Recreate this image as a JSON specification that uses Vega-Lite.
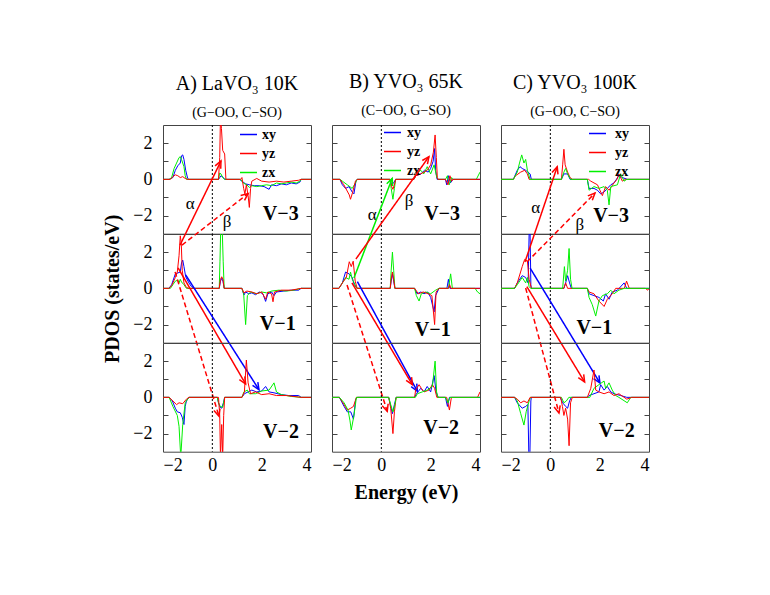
{
"$schema":"https://vega.github.io/schema/vega-lite/v6.json",
"padding":{"left":102,"top":71,"right":5,"bottom":5},
"background":"white",
"columns":3,
"spacing":{"row":0,"column":21},
"bounds":"flush",
"align":"all",
"resolve":{"scale":{"color":"independent","x":"independent","y":"independent","strokeDash":"independent"},"legend":{"color":"independent"}},
"datasets":{
"A3":[
{"o":"xy","e":-2,"d":0},{"o":"xy","e":-1.75,"d":0},{"o":"xy","e":-1.6,"d":0.1},{"o":"xy","e":-1.5,"d":0.5},{"o":"xy","e":-1.4,"d":0.75},{"o":"xy","e":-1.3,"d":0.9},{"o":"xy","e":-1.25,"d":1.3},{"o":"xy","e":-1.2,"d":1.35},{"o":"xy","e":-1.15,"d":1.1},{"o":"xy","e":-1.08,"d":0.5},{"o":"xy","e":-1.0,"d":0.05},{"o":"xy","e":-0.95,"d":0},{"o":"xy","e":0.25,"d":0},{"o":"xy","e":0.3,"d":0.1},{"o":"xy","e":0.35,"d":0.2},{"o":"xy","e":0.45,"d":0.1},{"o":"xy","e":0.5,"d":0},{"o":"xy","e":1.1,"d":0},{"o":"xy","e":1.2,"d":-0.1},{"o":"xy","e":1.35,"d":-0.25},{"o":"xy","e":1.5,"d":-0.3},{"o":"xy","e":1.7,"d":-0.35},{"o":"xy","e":1.9,"d":-0.35},{"o":"xy","e":2.1,"d":-0.4},{"o":"xy","e":2.3,"d":-0.55},{"o":"xy","e":2.4,"d":-0.3},{"o":"xy","e":2.6,"d":-0.35},{"o":"xy","e":2.8,"d":-0.25},{"o":"xy","e":3.0,"d":-0.3},{"o":"xy","e":3.2,"d":-0.2},{"o":"xy","e":3.4,"d":-0.25},{"o":"xy","e":3.55,"d":-0.15},{"o":"xy","e":3.6,"d":0},{"o":"xy","e":4,"d":0},
{"o":"zx","e":-2,"d":0},{"o":"zx","e":-1.75,"d":0},{"o":"zx","e":-1.65,"d":0.1},{"o":"zx","e":-1.55,"d":0.6},{"o":"zx","e":-1.45,"d":0.9},{"o":"zx","e":-1.35,"d":1.2},{"o":"zx","e":-1.3,"d":1.25},{"o":"zx","e":-1.25,"d":1.1},{"o":"zx","e":-1.15,"d":0.7},{"o":"zx","e":-1.1,"d":0.2},{"o":"zx","e":-1.05,"d":0},{"o":"zx","e":0.25,"d":0},{"o":"zx","e":0.3,"d":0.35},{"o":"zx","e":0.35,"d":0.3},{"o":"zx","e":0.42,"d":0.1},{"o":"zx","e":0.5,"d":0},{"o":"zx","e":1.15,"d":0},{"o":"zx","e":1.25,"d":-0.2},{"o":"zx","e":1.4,"d":-0.3},{"o":"zx","e":1.5,"d":-0.45},{"o":"zx","e":1.6,"d":-0.35},{"o":"zx","e":1.8,"d":-0.4},{"o":"zx","e":2.0,"d":-0.35},{"o":"zx","e":2.2,"d":-0.3},{"o":"zx","e":2.4,"d":-0.35},{"o":"zx","e":2.6,"d":-0.2},{"o":"zx","e":2.8,"d":-0.25},{"o":"zx","e":3.0,"d":-0.2},{"o":"zx","e":3.2,"d":-0.15},{"o":"zx","e":3.4,"d":-0.2},{"o":"zx","e":3.55,"d":-0.1},{"o":"zx","e":3.6,"d":0},{"o":"zx","e":4,"d":0},
{"o":"yz","e":-2,"d":0},{"o":"yz","e":-1.7,"d":0},{"o":"yz","e":-1.6,"d":0.15},{"o":"yz","e":-1.5,"d":0.25},{"o":"yz","e":-1.4,"d":0.2},{"o":"yz","e":-1.3,"d":0.1},{"o":"yz","e":-1.2,"d":0.15},{"o":"yz","e":-1.1,"d":0.05},{"o":"yz","e":-1.0,"d":0},{"o":"yz","e":0.25,"d":0},{"o":"yz","e":0.3,"d":1.2},{"o":"yz","e":0.33,"d":3.5},{"o":"yz","e":0.37,"d":2.8},{"o":"yz","e":0.42,"d":1.6},{"o":"yz","e":0.5,"d":1.4},{"o":"yz","e":0.55,"d":0},{"o":"yz","e":1.15,"d":0},{"o":"yz","e":1.2,"d":0.1},{"o":"yz","e":1.27,"d":-0.5},{"o":"yz","e":1.32,"d":-0.8},{"o":"yz","e":1.38,"d":-0.3},{"o":"yz","e":1.45,"d":-0.9},{"o":"yz","e":1.5,"d":-1.55},{"o":"yz","e":1.55,"d":-0.5},{"o":"yz","e":1.6,"d":-0.1},{"o":"yz","e":1.8,"d":0.05},{"o":"yz","e":2.0,"d":-0.1},{"o":"yz","e":2.3,"d":-0.15},{"o":"yz","e":2.6,"d":-0.1},{"o":"yz","e":2.9,"d":-0.15},{"o":"yz","e":3.2,"d":-0.1},{"o":"yz","e":3.5,"d":-0.05},{"o":"yz","e":3.6,"d":0},{"o":"yz","e":4,"d":0}
],
"A1":[
{"o":"xy","e":-2,"d":0},{"o":"xy","e":-1.76,"d":0},{"o":"xy","e":-1.65,"d":0.2},{"o":"xy","e":-1.5,"d":0.8},{"o":"xy","e":-1.4,"d":0.85},{"o":"xy","e":-1.3,"d":0.9},{"o":"xy","e":-1.25,"d":1.4},{"o":"xy","e":-1.2,"d":1.56},{"o":"xy","e":-1.15,"d":1.2},{"o":"xy","e":-1.08,"d":0.64},{"o":"xy","e":-0.95,"d":0.3},{"o":"xy","e":-0.85,"d":0.1},{"o":"xy","e":-0.74,"d":0},{"o":"xy","e":0.28,"d":0},{"o":"xy","e":0.33,"d":0.4},{"o":"xy","e":0.38,"d":0.55},{"o":"xy","e":0.43,"d":0.4},{"o":"xy","e":0.48,"d":0},{"o":"xy","e":1.2,"d":0},{"o":"xy","e":1.28,"d":-0.37},{"o":"xy","e":1.35,"d":-0.2},{"o":"xy","e":1.48,"d":-0.3},{"o":"xy","e":1.6,"d":-0.25},{"o":"xy","e":1.75,"d":-0.35},{"o":"xy","e":1.9,"d":-0.2},{"o":"xy","e":2.05,"d":-0.3},{"o":"xy","e":2.16,"d":-0.72},{"o":"xy","e":2.25,"d":-0.3},{"o":"xy","e":2.4,"d":-0.2},{"o":"xy","e":2.5,"d":-0.4},{"o":"xy","e":2.6,"d":-0.2},{"o":"xy","e":2.9,"d":-0.15},{"o":"xy","e":3.2,"d":-0.1},{"o":"xy","e":3.5,"d":-0.1},{"o":"xy","e":3.6,"d":0},{"o":"xy","e":4,"d":0},
{"o":"zx","e":-2,"d":0},{"o":"zx","e":-1.7,"d":0},{"o":"zx","e":-1.6,"d":0.2},{"o":"zx","e":-1.5,"d":0.4},{"o":"zx","e":-1.4,"d":0.45},{"o":"zx","e":-1.35,"d":0.3},{"o":"zx","e":-1.3,"d":0.5},{"o":"zx","e":-1.25,"d":0.35},{"o":"zx","e":-1.15,"d":0.2},{"o":"zx","e":-1.05,"d":0},{"o":"zx","e":0.28,"d":0},{"o":"zx","e":0.31,"d":1.5},{"o":"zx","e":0.34,"d":3.3},{"o":"zx","e":0.4,"d":3.3},{"o":"zx","e":0.44,"d":1.5},{"o":"zx","e":0.48,"d":0},{"o":"zx","e":1.2,"d":0},{"o":"zx","e":1.27,"d":-0.3},{"o":"zx","e":1.35,"d":-2.0},{"o":"zx","e":1.42,"d":-0.4},{"o":"zx","e":1.55,"d":-0.2},{"o":"zx","e":1.8,"d":-0.3},{"o":"zx","e":2.0,"d":-0.2},{"o":"zx","e":2.2,"d":-0.25},{"o":"zx","e":2.4,"d":-0.15},{"o":"zx","e":2.7,"d":-0.1},{"o":"zx","e":3.0,"d":-0.15},{"o":"zx","e":3.3,"d":-0.1},{"o":"zx","e":3.6,"d":0},{"o":"zx","e":4,"d":0},
{"o":"yz","e":-2,"d":0},{"o":"yz","e":-1.75,"d":0},{"o":"yz","e":-1.65,"d":0.15},{"o":"yz","e":-1.5,"d":0.6},{"o":"yz","e":-1.42,"d":0.9},{"o":"yz","e":-1.35,"d":1.8},{"o":"yz","e":-1.3,"d":2.9},{"o":"yz","e":-1.26,"d":2.5},{"o":"yz","e":-1.22,"d":1.0},{"o":"yz","e":-1.15,"d":0.3},{"o":"yz","e":-1.05,"d":0.05},{"o":"yz","e":-0.95,"d":0},{"o":"yz","e":0.28,"d":0},{"o":"yz","e":0.33,"d":0.5},{"o":"yz","e":0.38,"d":0.64},{"o":"yz","e":0.43,"d":0.5},{"o":"yz","e":0.48,"d":0},{"o":"yz","e":1.2,"d":0},{"o":"yz","e":1.28,"d":-0.25},{"o":"yz","e":1.4,"d":-0.15},{"o":"yz","e":1.6,"d":-0.2},{"o":"yz","e":1.8,"d":-0.3},{"o":"yz","e":2.0,"d":-0.2},{"o":"yz","e":2.16,"d":-0.6},{"o":"yz","e":2.25,"d":-0.2},{"o":"yz","e":2.4,"d":-0.3},{"o":"yz","e":2.46,"d":-0.74},{"o":"yz","e":2.52,"d":-0.2},{"o":"yz","e":2.8,"d":-0.1},{"o":"yz","e":3.2,"d":-0.1},{"o":"yz","e":3.6,"d":0},{"o":"yz","e":4,"d":0}
],
"A2":[
{"o":"xy","e":-2,"d":0},{"o":"xy","e":-1.75,"d":0},{"o":"xy","e":-1.62,"d":-0.2},{"o":"xy","e":-1.5,"d":-0.6},{"o":"xy","e":-1.42,"d":-0.8},{"o":"xy","e":-1.3,"d":-0.85},{"o":"xy","e":-1.22,"d":-1.1},{"o":"xy","e":-1.15,"d":-1.5},{"o":"xy","e":-1.1,"d":-0.5},{"o":"xy","e":-1.05,"d":-0.2},{"o":"xy","e":-0.95,"d":0},{"o":"xy","e":0.2,"d":0},{"o":"xy","e":0.25,"d":-0.3},{"o":"xy","e":0.32,"d":-0.55},{"o":"xy","e":0.38,"d":-0.6},{"o":"xy","e":0.45,"d":-0.3},{"o":"xy","e":0.5,"d":0},{"o":"xy","e":1.2,"d":0},{"o":"xy","e":1.3,"d":0.2},{"o":"xy","e":1.45,"d":0.3},{"o":"xy","e":1.6,"d":0.4},{"o":"xy","e":1.8,"d":0.3},{"o":"xy","e":2.0,"d":0.35},{"o":"xy","e":2.16,"d":0.6},{"o":"xy","e":2.3,"d":0.3},{"o":"xy","e":2.5,"d":0.25},{"o":"xy","e":2.8,"d":0.15},{"o":"xy","e":3.1,"d":0.1},{"o":"xy","e":3.5,"d":0.1},{"o":"xy","e":3.6,"d":0},{"o":"xy","e":4,"d":0},
{"o":"zx","e":-2,"d":0},{"o":"zx","e":-1.75,"d":0},{"o":"zx","e":-1.6,"d":-0.5},{"o":"zx","e":-1.42,"d":-1.0},{"o":"zx","e":-1.35,"d":-1.6},{"o":"zx","e":-1.28,"d":-3.3},{"o":"zx","e":-1.2,"d":-1.5},{"o":"zx","e":-1.1,"d":-0.3},{"o":"zx","e":-0.95,"d":0},{"o":"zx","e":0.2,"d":0},{"o":"zx","e":0.25,"d":-0.3},{"o":"zx","e":0.32,"d":-0.5},{"o":"zx","e":0.42,"d":-0.55},{"o":"zx","e":0.5,"d":0},{"o":"zx","e":1.2,"d":0},{"o":"zx","e":1.28,"d":0.3},{"o":"zx","e":1.42,"d":0.4},{"o":"zx","e":1.5,"d":0.2},{"o":"zx","e":1.75,"d":0.2},{"o":"zx","e":2.0,"d":0.35},{"o":"zx","e":2.3,"d":0.4},{"o":"zx","e":2.5,"d":0.8},{"o":"zx","e":2.6,"d":0.3},{"o":"zx","e":2.8,"d":0.15},{"o":"zx","e":3.2,"d":0.05},{"o":"zx","e":3.6,"d":0},{"o":"zx","e":4,"d":0},
{"o":"yz","e":-2,"d":0},{"o":"yz","e":-1.75,"d":0},{"o":"yz","e":-1.6,"d":-0.2},{"o":"yz","e":-1.45,"d":-0.4},{"o":"yz","e":-1.35,"d":-0.3},{"o":"yz","e":-1.2,"d":-0.35},{"o":"yz","e":-1.05,"d":-0.1},{"o":"yz","e":-0.95,"d":0},{"o":"yz","e":0.25,"d":0},{"o":"yz","e":0.3,"d":-1.0},{"o":"yz","e":0.33,"d":-3.3},{"o":"yz","e":0.38,"d":-1.5},{"o":"yz","e":0.42,"d":-3.3},{"o":"yz","e":0.46,"d":-1.0},{"o":"yz","e":0.5,"d":0},{"o":"yz","e":1.2,"d":0},{"o":"yz","e":1.3,"d":0.3},{"o":"yz","e":1.38,"d":2.06},{"o":"yz","e":1.45,"d":0.8},{"o":"yz","e":1.55,"d":0.2},{"o":"yz","e":1.75,"d":0.3},{"o":"yz","e":2.0,"d":0.15},{"o":"yz","e":2.3,"d":0.2},{"o":"yz","e":2.6,"d":0.1},{"o":"yz","e":3.0,"d":0.1},{"o":"yz","e":3.6,"d":0},{"o":"yz","e":4,"d":0}
],
"B3":[
{"o":"xy","e":-2,"d":0},{"o":"xy","e":-1.68,"d":0},{"o":"xy","e":-1.58,"d":-0.3},{"o":"xy","e":-1.45,"d":-0.5},{"o":"xy","e":-1.31,"d":-0.4},{"o":"xy","e":-1.18,"d":-0.7},{"o":"xy","e":-1.11,"d":-0.8},{"o":"xy","e":-1.03,"d":-0.1},{"o":"xy","e":-0.98,"d":0},{"o":"xy","e":0.35,"d":0},{"o":"xy","e":0.42,"d":-0.3},{"o":"xy","e":0.5,"d":-0.2},{"o":"xy","e":0.58,"d":0},{"o":"xy","e":1.32,"d":0},{"o":"xy","e":1.4,"d":0.2},{"o":"xy","e":1.6,"d":0.3},{"o":"xy","e":1.75,"d":0.5},{"o":"xy","e":1.9,"d":0.4},{"o":"xy","e":2.0,"d":0.6},{"o":"xy","e":2.1,"d":1.0},{"o":"xy","e":2.16,"d":1.7},{"o":"xy","e":2.2,"d":0.5},{"o":"xy","e":2.26,"d":0},{"o":"xy","e":2.6,"d":0},{"o":"xy","e":2.65,"d":-0.3},{"o":"xy","e":2.72,"d":0.2},{"o":"xy","e":2.8,"d":-0.2},{"o":"xy","e":2.9,"d":0},{"o":"xy","e":4,"d":0},
{"o":"zx","e":-2,"d":0},{"o":"zx","e":-1.68,"d":0},{"o":"zx","e":-1.58,"d":-0.1},{"o":"zx","e":-1.38,"d":-0.3},{"o":"zx","e":-1.18,"d":-0.5},{"o":"zx","e":-1.05,"d":-0.2},{"o":"zx","e":-0.98,"d":0},{"o":"zx","e":0.35,"d":0},{"o":"zx","e":0.4,"d":-0.5},{"o":"zx","e":0.47,"d":-1.1},{"o":"zx","e":0.53,"d":-0.5},{"o":"zx","e":0.58,"d":0},{"o":"zx","e":1.32,"d":0},{"o":"zx","e":1.4,"d":0.3},{"o":"zx","e":1.6,"d":0.5},{"o":"zx","e":1.72,"d":0.3},{"o":"zx","e":1.86,"d":0.7},{"o":"zx","e":2.0,"d":0.3},{"o":"zx","e":2.14,"d":0.8},{"o":"zx","e":2.25,"d":0.1},{"o":"zx","e":2.3,"d":0},{"o":"zx","e":2.6,"d":0},{"o":"zx","e":2.68,"d":0.2},{"o":"zx","e":2.75,"d":-0.3},{"o":"zx","e":2.85,"d":0.1},{"o":"zx","e":2.9,"d":0},{"o":"zx","e":3.85,"d":0},{"o":"zx","e":4,"d":0.4},
{"o":"yz","e":-2,"d":0},{"o":"yz","e":-1.68,"d":0},{"o":"yz","e":-1.52,"d":-0.3},{"o":"yz","e":-1.3,"d":-0.86},{"o":"yz","e":-1.25,"d":-1.1},{"o":"yz","e":-1.16,"d":-0.7},{"o":"yz","e":-1.05,"d":-0.1},{"o":"yz","e":-0.98,"d":0},{"o":"yz","e":0.35,"d":0},{"o":"yz","e":0.42,"d":-0.4},{"o":"yz","e":0.47,"d":-0.55},{"o":"yz","e":0.55,"d":-0.2},{"o":"yz","e":0.58,"d":0},{"o":"yz","e":1.32,"d":0},{"o":"yz","e":1.4,"d":0.2},{"o":"yz","e":1.6,"d":0.3},{"o":"yz","e":1.86,"d":0.5},{"o":"yz","e":2.0,"d":0.8},{"o":"yz","e":2.11,"d":1.5},{"o":"yz","e":2.18,"d":2.45},{"o":"yz","e":2.23,"d":1.2},{"o":"yz","e":2.27,"d":0.1},{"o":"yz","e":2.3,"d":0},{"o":"yz","e":2.6,"d":0},{"o":"yz","e":2.7,"d":-0.3},{"o":"yz","e":2.78,"d":0.2},{"o":"yz","e":2.85,"d":-0.1},{"o":"yz","e":2.9,"d":0},{"o":"yz","e":4,"d":0}
],
"B1":[
{"o":"xy","e":-2,"d":0},{"o":"xy","e":-1.72,"d":0},{"o":"xy","e":-1.58,"d":0.3},{"o":"xy","e":-1.45,"d":0.9},{"o":"xy","e":-1.38,"d":0.85},{"o":"xy","e":-1.31,"d":0.8},{"o":"xy","e":-1.18,"d":0.6},{"o":"xy","e":-1.1,"d":0.2},{"o":"xy","e":-0.97,"d":0},{"o":"xy","e":0.36,"d":0},{"o":"xy","e":0.4,"d":0.4},{"o":"xy","e":0.45,"d":0.8},{"o":"xy","e":0.5,"d":0.4},{"o":"xy","e":0.55,"d":0},{"o":"xy","e":1.35,"d":0},{"o":"xy","e":1.45,"d":-0.3},{"o":"xy","e":1.6,"d":-0.2},{"o":"xy","e":1.73,"d":-0.3},{"o":"xy","e":1.88,"d":-0.2},{"o":"xy","e":2.0,"d":-0.5},{"o":"xy","e":2.14,"d":-1.3},{"o":"xy","e":2.2,"d":-0.4},{"o":"xy","e":2.34,"d":0},{"o":"xy","e":2.66,"d":0},{"o":"xy","e":2.72,"d":0.5},{"o":"xy","e":2.78,"d":0},{"o":"xy","e":4,"d":0},
{"o":"zx","e":-2,"d":0},{"o":"zx","e":-1.72,"d":0},{"o":"zx","e":-1.58,"d":0.3},{"o":"zx","e":-1.45,"d":0.6},{"o":"zx","e":-1.31,"d":0.5},{"o":"zx","e":-1.25,"d":0.9},{"o":"zx","e":-1.18,"d":0.5},{"o":"zx","e":-1.1,"d":0.3},{"o":"zx","e":-1.0,"d":0},{"o":"zx","e":0.36,"d":0},{"o":"zx","e":0.4,"d":1.0},{"o":"zx","e":0.45,"d":2.0},{"o":"zx","e":0.5,"d":1.0},{"o":"zx","e":0.55,"d":0},{"o":"zx","e":1.35,"d":0},{"o":"zx","e":1.42,"d":-0.4},{"o":"zx","e":1.53,"d":-0.7},{"o":"zx","e":1.62,"d":-0.3},{"o":"zx","e":1.8,"d":-0.2},{"o":"zx","e":2.0,"d":-0.3},{"o":"zx","e":2.2,"d":-0.1},{"o":"zx","e":2.34,"d":0},{"o":"zx","e":2.72,"d":0},{"o":"zx","e":2.81,"d":0.8},{"o":"zx","e":2.88,"d":0},{"o":"zx","e":3.8,"d":0},{"o":"zx","e":3.9,"d":-0.2},{"o":"zx","e":4,"d":-0.3},
{"o":"yz","e":-2,"d":0},{"o":"yz","e":-1.72,"d":0},{"o":"yz","e":-1.58,"d":0.3},{"o":"yz","e":-1.42,"d":0.6},{"o":"yz","e":-1.3,"d":1.47},{"o":"yz","e":-1.22,"d":1.2},{"o":"yz","e":-1.14,"d":1.5},{"o":"yz","e":-1.06,"d":0.4},{"o":"yz","e":-0.98,"d":0},{"o":"yz","e":0.36,"d":0},{"o":"yz","e":0.4,"d":0.5},{"o":"yz","e":0.45,"d":0.9},{"o":"yz","e":0.5,"d":0.5},{"o":"yz","e":0.55,"d":0},{"o":"yz","e":1.35,"d":0},{"o":"yz","e":1.5,"d":-0.3},{"o":"yz","e":1.7,"d":-0.2},{"o":"yz","e":1.9,"d":-0.3},{"o":"yz","e":2.05,"d":-0.4},{"o":"yz","e":2.16,"d":-2.0},{"o":"yz","e":2.22,"d":-0.2},{"o":"yz","e":2.34,"d":0},{"o":"yz","e":2.72,"d":0},{"o":"yz","e":2.77,"d":0.2},{"o":"yz","e":2.82,"d":0},{"o":"yz","e":4,"d":0}
],
"B2":[
{"o":"xy","e":-2,"d":0},{"o":"xy","e":-1.7,"d":0},{"o":"xy","e":-1.51,"d":-0.5},{"o":"xy","e":-1.38,"d":-0.8},{"o":"xy","e":-1.24,"d":-0.8},{"o":"xy","e":-1.13,"d":-1.2},{"o":"xy","e":-1.04,"d":-0.1},{"o":"xy","e":-0.97,"d":0},{"o":"xy","e":0.3,"d":0},{"o":"xy","e":0.38,"d":-0.5},{"o":"xy","e":0.45,"d":-0.9},{"o":"xy","e":0.53,"d":-0.4},{"o":"xy","e":0.6,"d":0},{"o":"xy","e":1.35,"d":0},{"o":"xy","e":1.42,"d":0.2},{"o":"xy","e":1.6,"d":0.5},{"o":"xy","e":1.73,"d":0.3},{"o":"xy","e":1.86,"d":0.6},{"o":"xy","e":2.0,"d":0.3},{"o":"xy","e":2.14,"d":1.2},{"o":"xy","e":2.22,"d":0.3},{"o":"xy","e":2.3,"d":0},{"o":"xy","e":2.6,"d":0},{"o":"xy","e":2.68,"d":-0.5},{"o":"xy","e":2.76,"d":0},{"o":"xy","e":4,"d":0},
{"o":"yz","e":-2,"d":0},{"o":"yz","e":-1.7,"d":0},{"o":"yz","e":-1.51,"d":-0.4},{"o":"yz","e":-1.38,"d":-0.7},{"o":"yz","e":-1.24,"d":-0.6},{"o":"yz","e":-1.13,"d":-0.5},{"o":"yz","e":-1.01,"d":0},{"o":"yz","e":0.3,"d":0},{"o":"yz","e":0.38,"d":-0.6},{"o":"yz","e":0.47,"d":-2.0},{"o":"yz","e":0.53,"d":-0.8},{"o":"yz","e":0.6,"d":0},{"o":"yz","e":1.35,"d":0},{"o":"yz","e":1.39,"d":0.4},{"o":"yz","e":1.53,"d":0.7},{"o":"yz","e":1.62,"d":0.5},{"o":"yz","e":1.73,"d":0.3},{"o":"yz","e":1.93,"d":0.4},{"o":"yz","e":2.07,"d":0.7},{"o":"yz","e":2.16,"d":0.5},{"o":"yz","e":2.25,"d":0},{"o":"yz","e":2.65,"d":0},{"o":"yz","e":2.76,"d":-0.7},{"o":"yz","e":2.84,"d":0},{"o":"yz","e":3.9,"d":0},{"o":"yz","e":4,"d":0.3},
{"o":"zx","e":-2,"d":0},{"o":"zx","e":-1.7,"d":0},{"o":"zx","e":-1.51,"d":-0.3},{"o":"zx","e":-1.35,"d":-0.7},{"o":"zx","e":-1.27,"d":-1.3},{"o":"zx","e":-1.22,"d":-1.8},{"o":"zx","e":-1.11,"d":-1.0},{"o":"zx","e":-1.01,"d":0},{"o":"zx","e":0.3,"d":0},{"o":"zx","e":0.38,"d":-0.4},{"o":"zx","e":0.47,"d":-0.8},{"o":"zx","e":0.55,"d":-0.4},{"o":"zx","e":0.6,"d":0},{"o":"zx","e":1.38,"d":0},{"o":"zx","e":1.46,"d":0.2},{"o":"zx","e":1.66,"d":0.3},{"o":"zx","e":1.86,"d":0.4},{"o":"zx","e":2.07,"d":0.6},{"o":"zx","e":2.18,"d":2.0},{"o":"zx","e":2.24,"d":0.3},{"o":"zx","e":2.3,"d":0},{"o":"zx","e":2.6,"d":0},{"o":"zx","e":2.7,"d":-0.3},{"o":"zx","e":2.78,"d":0},{"o":"zx","e":4,"d":0}
],
"C3":[
{"o":"xy","e":-2,"d":0},{"o":"xy","e":-1.5,"d":0},{"o":"xy","e":-1.34,"d":0.5},{"o":"xy","e":-1.23,"d":0.7},{"o":"xy","e":-1.14,"d":0.6},{"o":"xy","e":-1.0,"d":0.5},{"o":"xy","e":-0.91,"d":0.4},{"o":"xy","e":-0.82,"d":0.3},{"o":"xy","e":-0.77,"d":0},{"o":"xy","e":0.45,"d":0},{"o":"xy","e":0.55,"d":0.3},{"o":"xy","e":0.7,"d":0.3},{"o":"xy","e":0.8,"d":0},{"o":"xy","e":1.5,"d":0},{"o":"xy","e":1.57,"d":-0.5},{"o":"xy","e":1.77,"d":-0.5},{"o":"xy","e":1.91,"d":-0.6},{"o":"xy","e":2.04,"d":-0.8},{"o":"xy","e":2.18,"d":-0.7},{"o":"xy","e":2.31,"d":-0.5},{"o":"xy","e":2.45,"d":-0.3},{"o":"xy","e":2.58,"d":-0.2},{"o":"xy","e":2.78,"d":0.2},{"o":"xy","e":2.92,"d":0.1},{"o":"xy","e":3.12,"d":0},{"o":"xy","e":4,"d":0},
{"o":"yz","e":-2,"d":0},{"o":"yz","e":-1.5,"d":0},{"o":"yz","e":-1.41,"d":0.2},{"o":"yz","e":-1.2,"d":0.4},{"o":"yz","e":-1.04,"d":0.5},{"o":"yz","e":-0.93,"d":0.3},{"o":"yz","e":-0.86,"d":0},{"o":"yz","e":0.45,"d":0},{"o":"yz","e":0.5,"d":0.8},{"o":"yz","e":0.55,"d":1.66},{"o":"yz","e":0.6,"d":0.8},{"o":"yz","e":0.7,"d":0.4},{"o":"yz","e":0.8,"d":0.1},{"o":"yz","e":0.89,"d":0},{"o":"yz","e":1.55,"d":0},{"o":"yz","e":1.64,"d":-0.1},{"o":"yz","e":1.91,"d":-0.3},{"o":"yz","e":2.11,"d":-0.9},{"o":"yz","e":2.24,"d":-0.4},{"o":"yz","e":2.38,"d":-0.6},{"o":"yz","e":2.58,"d":-0.2},{"o":"yz","e":2.7,"d":0},{"o":"yz","e":2.78,"d":0.3},{"o":"yz","e":2.92,"d":-0.1},{"o":"yz","e":3.05,"d":0},{"o":"yz","e":4,"d":0},
{"o":"zx","e":-2,"d":0},{"o":"zx","e":-1.5,"d":0},{"o":"zx","e":-1.34,"d":0.4},{"o":"zx","e":-1.25,"d":0.9},{"o":"zx","e":-1.16,"d":1.35},{"o":"zx","e":-1.07,"d":0.9},{"o":"zx","e":-1.0,"d":1.1},{"o":"zx","e":-0.93,"d":0.5},{"o":"zx","e":-0.82,"d":0},{"o":"zx","e":0.45,"d":0},{"o":"zx","e":0.55,"d":0.4},{"o":"zx","e":0.62,"d":0.6},{"o":"zx","e":0.7,"d":0.3},{"o":"zx","e":0.82,"d":0},{"o":"zx","e":1.5,"d":0},{"o":"zx","e":1.57,"d":-0.6},{"o":"zx","e":1.77,"d":-0.4},{"o":"zx","e":1.97,"d":-0.5},{"o":"zx","e":2.18,"d":-0.4},{"o":"zx","e":2.31,"d":-0.6},{"o":"zx","e":2.38,"d":-1.41},{"o":"zx","e":2.45,"d":-0.4},{"o":"zx","e":2.72,"d":-0.3},{"o":"zx","e":2.85,"d":0.3},{"o":"zx","e":2.99,"d":-0.1},{"o":"zx","e":3.1,"d":0},{"o":"zx","e":4,"d":0}
],
"C1":[
{"o":"xy","e":-2,"d":0},{"o":"xy","e":-1.45,"d":0},{"o":"xy","e":-1.34,"d":0.3},{"o":"xy","e":-1.14,"d":0.7},{"o":"xy","e":-1.0,"d":0.6},{"o":"xy","e":-0.9,"d":0.3},{"o":"xy","e":-0.86,"d":3.0},{"o":"xy","e":-0.82,"d":3.0},{"o":"xy","e":-0.79,"d":0.2},{"o":"xy","e":-0.77,"d":0},{"o":"xy","e":0.55,"d":0},{"o":"xy","e":0.62,"d":0.3},{"o":"xy","e":0.7,"d":0.7},{"o":"xy","e":0.78,"d":0.3},{"o":"xy","e":0.85,"d":0},{"o":"xy","e":1.5,"d":0},{"o":"xy","e":1.57,"d":-0.3},{"o":"xy","e":1.77,"d":-0.4},{"o":"xy","e":1.97,"d":-0.5},{"o":"xy","e":2.15,"d":-0.7},{"o":"xy","e":2.24,"d":-0.3},{"o":"xy","e":2.38,"d":-0.6},{"o":"xy","e":2.51,"d":-0.2},{"o":"xy","e":2.72,"d":-0.1},{"o":"xy","e":2.99,"d":0.3},{"o":"xy","e":3.1,"d":0},{"o":"xy","e":4,"d":0},
{"o":"yz","e":-2,"d":0},{"o":"yz","e":-1.45,"d":0},{"o":"yz","e":-1.34,"d":0.3},{"o":"yz","e":-1.14,"d":1.2},{"o":"yz","e":-1.04,"d":1.6},{"o":"yz","e":-0.93,"d":1.5},{"o":"yz","e":-0.86,"d":0.5},{"o":"yz","e":-0.77,"d":0},{"o":"yz","e":0.55,"d":0},{"o":"yz","e":0.62,"d":0.3},{"o":"yz","e":0.7,"d":0},{"o":"yz","e":1.5,"d":0},{"o":"yz","e":1.57,"d":-0.2},{"o":"yz","e":1.77,"d":-0.3},{"o":"yz","e":1.97,"d":-0.7},{"o":"yz","e":2.18,"d":-1.0},{"o":"yz","e":2.31,"d":-0.6},{"o":"yz","e":2.51,"d":-0.3},{"o":"yz","e":2.65,"d":0},{"o":"yz","e":3.0,"d":0},{"o":"yz","e":3.09,"d":0.4},{"o":"yz","e":3.2,"d":0},{"o":"yz","e":3.85,"d":0},{"o":"yz","e":3.95,"d":-0.1},{"o":"yz","e":4,"d":0},
{"o":"zx","e":-2,"d":0},{"o":"zx","e":-1.45,"d":0},{"o":"zx","e":-1.34,"d":0.2},{"o":"zx","e":-1.14,"d":0.6},{"o":"zx","e":-1.0,"d":0.3},{"o":"zx","e":-0.93,"d":0.6},{"o":"zx","e":-0.86,"d":0.1},{"o":"zx","e":-0.8,"d":0},{"o":"zx","e":0.5,"d":0},{"o":"zx","e":0.57,"d":1.2},{"o":"zx","e":0.62,"d":0.4},{"o":"zx","e":0.7,"d":1.0},{"o":"zx","e":0.76,"d":2.2},{"o":"zx","e":0.82,"d":0.5},{"o":"zx","e":0.88,"d":0},{"o":"zx","e":1.5,"d":0},{"o":"zx","e":1.57,"d":-0.5},{"o":"zx","e":1.7,"d":-0.9},{"o":"zx","e":1.84,"d":-1.53},{"o":"zx","e":1.97,"d":-0.7},{"o":"zx","e":2.11,"d":-0.4},{"o":"zx","e":2.31,"d":-0.3},{"o":"zx","e":2.45,"d":-0.1},{"o":"zx","e":2.58,"d":-0.3},{"o":"zx","e":2.78,"d":-0.1},{"o":"zx","e":3.0,"d":0},{"o":"zx","e":4,"d":0}
],
"C2":[
{"o":"xy","e":-2,"d":0},{"o":"xy","e":-1.45,"d":0},{"o":"xy","e":-1.34,"d":-0.3},{"o":"xy","e":-1.14,"d":-0.6},{"o":"xy","e":-1.0,"d":-0.5},{"o":"xy","e":-0.91,"d":-0.4},{"o":"xy","e":-0.87,"d":-3.3},{"o":"xy","e":-0.83,"d":-3.3},{"o":"xy","e":-0.79,"d":-0.2},{"o":"xy","e":-0.77,"d":0},{"o":"xy","e":0.4,"d":0},{"o":"xy","e":0.5,"d":-0.3},{"o":"xy","e":0.62,"d":-0.5},{"o":"xy","e":0.7,"d":-0.6},{"o":"xy","e":0.78,"d":-0.2},{"o":"xy","e":0.85,"d":0},{"o":"xy","e":1.5,"d":0},{"o":"xy","e":1.57,"d":0.1},{"o":"xy","e":1.77,"d":0.2},{"o":"xy","e":1.97,"d":0.3},{"o":"xy","e":2.04,"d":0.7},{"o":"xy","e":2.18,"d":0.4},{"o":"xy","e":2.31,"d":0.6},{"o":"xy","e":2.45,"d":0.3},{"o":"xy","e":2.58,"d":0.2},{"o":"xy","e":2.85,"d":0.1},{"o":"xy","e":3.1,"d":0},{"o":"xy","e":4,"d":0},
{"o":"zx","e":-2,"d":0},{"o":"zx","e":-1.45,"d":0},{"o":"zx","e":-1.34,"d":-0.2},{"o":"zx","e":-1.2,"d":-0.9},{"o":"zx","e":-1.07,"d":-1.53},{"o":"zx","e":-0.98,"d":-0.8},{"o":"zx","e":-0.86,"d":-0.2},{"o":"zx","e":-0.8,"d":0},{"o":"zx","e":0.45,"d":0},{"o":"zx","e":0.55,"d":-0.3},{"o":"zx","e":0.65,"d":-0.2},{"o":"zx","e":0.75,"d":0},{"o":"zx","e":1.6,"d":0},{"o":"zx","e":1.77,"d":0.5},{"o":"zx","e":1.97,"d":0.7},{"o":"zx","e":2.18,"d":0.9},{"o":"zx","e":2.24,"d":0.5},{"o":"zx","e":2.38,"d":0.8},{"o":"zx","e":2.51,"d":0.4},{"o":"zx","e":2.65,"d":0.1},{"o":"zx","e":2.78,"d":0},{"o":"zx","e":3.12,"d":-0.3},{"o":"zx","e":3.26,"d":0},{"o":"zx","e":4,"d":0},
{"o":"yz","e":-2,"d":0},{"o":"yz","e":-1.45,"d":0},{"o":"yz","e":-1.34,"d":-0.1},{"o":"yz","e":-1.2,"d":-0.3},{"o":"yz","e":-1.07,"d":-0.2},{"o":"yz","e":-0.93,"d":-0.3},{"o":"yz","e":-0.82,"d":0},{"o":"yz","e":0.42,"d":0},{"o":"yz","e":0.49,"d":-0.5},{"o":"yz","e":0.55,"d":-1.0},{"o":"yz","e":0.62,"d":-0.6},{"o":"yz","e":0.7,"d":-1.2},{"o":"yz","e":0.76,"d":-2.67},{"o":"yz","e":0.82,"d":-0.3},{"o":"yz","e":0.89,"d":0},{"o":"yz","e":1.5,"d":0},{"o":"yz","e":1.64,"d":0.5},{"o":"yz","e":1.77,"d":1.51},{"o":"yz","e":1.84,"d":0.4},{"o":"yz","e":1.97,"d":0.3},{"o":"yz","e":2.18,"d":0.2},{"o":"yz","e":2.38,"d":0.3},{"o":"yz","e":2.58,"d":0.1},{"o":"yz","e":2.78,"d":0.2},{"o":"yz","e":3.1,"d":-0.1},{"o":"yz","e":3.3,"d":0},{"o":"yz","e":4,"d":0}
],
"lab":[
{"c":"A","p":"3","k":"v","t":"V−3","e":3.5,"d":-2.27},{"c":"A","p":"1","k":"v","t":"V−1","e":3.38,"d":-2.3},{"c":"A","p":"2","k":"v","t":"V−2","e":3.51,"d":-2.26},
{"c":"A","p":"3","k":"g","t":"α","e":-0.9,"d":-1.35},{"c":"A","p":"3","k":"g","t":"β","e":0.6,"d":-2.33},
{"c":"B","p":"3","k":"v","t":"V−3","e":3.19,"d":-2.27},{"c":"B","p":"1","k":"v","t":"V−1","e":2.81,"d":-2.63},{"c":"B","p":"2","k":"v","t":"V−2","e":3.15,"d":-2.04},
{"c":"B","p":"3","k":"g","t":"α","e":-0.37,"d":-1.96},{"c":"B","p":"3","k":"g","t":"β","e":1.12,"d":-1.2},
{"c":"C","p":"3","k":"v","t":"V−3","e":3.19,"d":-2.33},{"c":"C","p":"1","k":"v","t":"V−1","e":2.51,"d":-2.52},{"c":"C","p":"2","k":"v","t":"V−2","e":3.42,"d":-2.17},
{"c":"C","p":"3","k":"g","t":"α","e":-0.59,"d":-1.59},{"c":"C","p":"3","k":"g","t":"β","e":1.2,"d":-2.51}
],
"arr":[
{"c":"A","o":"yz","s":"solid","x0":-1.31,"y0":2.39,"x1":0.35,"y1":7.03},
{"c":"A","o":"yz","s":"dashed","x0":-1.23,"y0":2.39,"x1":1.45,"y1":5.23},
{"c":"A","o":"xy","s":"solid","x0":-1.08,"y0":0.74,"x1":1.89,"y1":-5.59},
{"c":"A","o":"yz","s":"solid","x0":-1.39,"y0":1.13,"x1":1.35,"y1":-5.28},
{"c":"A","o":"yz","s":"dashed","x0":-1.51,"y0":0.91,"x1":0.27,"y1":-7.06},
{"c":"B","o":"zx","s":"solid","x0":-1.11,"y0":0.57,"x1":0.44,"y1":6.07},
{"c":"B","o":"yz","s":"solid","x0":-1.03,"y0":1.62,"x1":1.93,"y1":7.27},
{"c":"B","o":"xy","s":"solid","x0":-0.97,"y0":0.37,"x1":1.46,"y1":-5.68},
{"c":"B","o":"yz","s":"solid","x0":-1.19,"y0":0.3,"x1":1.26,"y1":-5.32},
{"c":"B","o":"yz","s":"dashed","x0":-1.39,"y0":0.19,"x1":0.24,"y1":-6.79},
{"c":"C","o":"yz","s":"solid","x0":-1.03,"y0":1.45,"x1":0.28,"y1":6.71},
{"c":"C","o":"yz","s":"dashed","x0":-0.95,"y0":1.45,"x1":1.81,"y1":5.26},
{"c":"C","o":"xy","s":"solid","x0":-0.82,"y0":1.12,"x1":2.01,"y1":-5.22},
{"c":"C","o":"yz","s":"solid","x0":-0.95,"y0":0.09,"x1":1.39,"y1":-5.17},
{"c":"C","o":"yz","s":"dashed","x0":-1.0,"y0":0.02,"x1":0.35,"y1":-6.88}
]
},
"concat":[
{"width":148,"height":108.7,"title":{"text":"A) LaVO₃ 10K","subtitle":"(G−OO, C−SO)"},"resolve":{"axis":{"y":"independent","x":"independent"}},
"layer":[
{"data":{"name":"A3"},"mark":{"type":"line","clip":true,"strokeWidth":1},"encoding":{"x":{"field":"e","type":"quantitative","scale":{"domain":[-2,4],"nice":false,"zero":false},"axis":null},"y":{"field":"d","type":"quantitative","scale":{"domain":[-3,3],"nice":false,"zero":false},"axis":{"orient":"left","values":[-2,-1,0,1,2],"labelExpr":"datum.value%2==0?datum.label:''","title":null,"labelFont":"Liberation Serif","labelFontSize":18}},"color":{"field":"o","type":"nominal","scale":{"domain":["xy","yz","zx"],"range":["#0000ff","#ff0000","#00f000"]},"legend":{"orient":"none","legendX":76,"legendY":0,"title":null,"labelOffset":4}}}},
{"data":{"values":[{}]},"mark":{"type":"rule","color":"#000","strokeWidth":1,"strokeDash":[2,2]},"encoding":{"x":{"datum":0,"type":"quantitative","scale":{"domain":[-2,4],"nice":false,"zero":false},"axis":null}}},
{"data":{"name":"lab"},"transform":[{"filter":"datum.c=='A'&&datum.p=='3'&&datum.k=='v'"}],"mark":{"type":"text","align":"right","baseline":"alphabetic","fontSize":20,"fontWeight":"bold","font":"Liberation Serif"},"encoding":{"x":{"field":"e","type":"quantitative","scale":{"domain":[-2,4],"nice":false,"zero":false},"axis":null},"y":{"field":"d","type":"quantitative","scale":{"domain":[-3,3],"nice":false,"zero":false},"axis":null},"text":{"field":"t"}}},
{"data":{"name":"lab"},"transform":[{"filter":"datum.c=='A'&&datum.p=='3'&&datum.k=='g'"}],"mark":{"type":"text","align":"center","baseline":"middle","fontSize":17,"font":"Liberation Serif"},"encoding":{"x":{"field":"e","type":"quantitative","scale":{"domain":[-2,4],"nice":false,"zero":false},"axis":null},"y":{"field":"d","type":"quantitative","scale":{"domain":[-3,3],"nice":false,"zero":false},"axis":null},"text":{"field":"t"}}},
{"data":{"values":[{}]},"mark":{"type":"rule","opacity":0},"encoding":{"y":{"datum":0,"type":"quantitative","scale":{"domain":[-3,3],"nice":false,"zero":false},"axis":{"orient":"right","values":[-2,-1,0,1,2],"labels":false,"title":null}}}}
]},
{"width":148,"height":108.7,"title":{"text":"B) YVO₃ 65K","subtitle":"(C−OO, G−SO)"},"resolve":{"axis":{"y":"independent","x":"independent"}},
"layer":[
{"data":{"name":"B3"},"mark":{"type":"line","clip":true,"strokeWidth":1},"encoding":{"x":{"field":"e","type":"quantitative","scale":{"domain":[-2,4],"nice":false,"zero":false},"axis":null},"y":{"field":"d","type":"quantitative","scale":{"domain":[-3,3],"nice":false,"zero":false},"axis":{"orient":"left","values":[-2,-1,0,1,2],"labels":false,"title":null}},"color":{"field":"o","type":"nominal","scale":{"domain":["xy","yz","zx"],"range":["#0000ff","#ff0000","#00f000"]},"legend":{"orient":"none","legendX":51,"legendY":-2,"title":null,"labelOffset":5}}}},
{"data":{"values":[{}]},"mark":{"type":"rule","color":"#000","strokeWidth":1,"strokeDash":[2,2]},"encoding":{"x":{"datum":0,"type":"quantitative","scale":{"domain":[-2,4],"nice":false,"zero":false},"axis":null}}},
{"data":{"name":"lab"},"transform":[{"filter":"datum.c=='B'&&datum.p=='3'&&datum.k=='v'"}],"mark":{"type":"text","align":"right","baseline":"alphabetic","fontSize":20,"fontWeight":"bold","font":"Liberation Serif"},"encoding":{"x":{"field":"e","type":"quantitative","scale":{"domain":[-2,4],"nice":false,"zero":false},"axis":null},"y":{"field":"d","type":"quantitative","scale":{"domain":[-3,3],"nice":false,"zero":false},"axis":null},"text":{"field":"t"}}},
{"data":{"name":"lab"},"transform":[{"filter":"datum.c=='B'&&datum.p=='3'&&datum.k=='g'"}],"mark":{"type":"text","align":"center","baseline":"middle","fontSize":17,"font":"Liberation Serif"},"encoding":{"x":{"field":"e","type":"quantitative","scale":{"domain":[-2,4],"nice":false,"zero":false},"axis":null},"y":{"field":"d","type":"quantitative","scale":{"domain":[-3,3],"nice":false,"zero":false},"axis":null},"text":{"field":"t"}}},
{"data":{"values":[{}]},"mark":{"type":"rule","opacity":0},"encoding":{"y":{"datum":0,"type":"quantitative","scale":{"domain":[-3,3],"nice":false,"zero":false},"axis":{"orient":"right","values":[-2,-1,0,1,2],"labels":false,"title":null}}}}
]},
{"width":148,"height":108.7,"title":{"text":"C) YVO₃ 100K","subtitle":"(G−OO, C−SO)"},"resolve":{"axis":{"y":"independent","x":"independent"}},
"layer":[
{"data":{"name":"C3"},"mark":{"type":"line","clip":true,"strokeWidth":1},"encoding":{"x":{"field":"e","type":"quantitative","scale":{"domain":[-2,4],"nice":false,"zero":false},"axis":null},"y":{"field":"d","type":"quantitative","scale":{"domain":[-3,3],"nice":false,"zero":false},"axis":{"orient":"left","values":[-2,-1,0,1,2],"labels":false,"title":null}},"color":{"field":"o","type":"nominal","scale":{"domain":["xy","yz","zx"],"range":["#0000ff","#ff0000","#00f000"]},"legend":{"orient":"none","legendX":87,"legendY":-1,"title":null,"labelOffset":8}}}},
{"data":{"values":[{}]},"mark":{"type":"rule","color":"#000","strokeWidth":1,"strokeDash":[2,2]},"encoding":{"x":{"datum":0,"type":"quantitative","scale":{"domain":[-2,4],"nice":false,"zero":false},"axis":null}}},
{"data":{"name":"lab"},"transform":[{"filter":"datum.c=='C'&&datum.p=='3'&&datum.k=='v'"}],"mark":{"type":"text","align":"right","baseline":"alphabetic","fontSize":20,"fontWeight":"bold","font":"Liberation Serif"},"encoding":{"x":{"field":"e","type":"quantitative","scale":{"domain":[-2,4],"nice":false,"zero":false},"axis":null},"y":{"field":"d","type":"quantitative","scale":{"domain":[-3,3],"nice":false,"zero":false},"axis":null},"text":{"field":"t"}}},
{"data":{"name":"lab"},"transform":[{"filter":"datum.c=='C'&&datum.p=='3'&&datum.k=='g'"}],"mark":{"type":"text","align":"center","baseline":"middle","fontSize":17,"font":"Liberation Serif"},"encoding":{"x":{"field":"e","type":"quantitative","scale":{"domain":[-2,4],"nice":false,"zero":false},"axis":null},"y":{"field":"d","type":"quantitative","scale":{"domain":[-3,3],"nice":false,"zero":false},"axis":null},"text":{"field":"t"}}},
{"data":{"values":[{}]},"mark":{"type":"rule","opacity":0},"encoding":{"y":{"datum":0,"type":"quantitative","scale":{"domain":[-3,3],"nice":false,"zero":false},"axis":{"orient":"right","values":[-2,-1,0,1,2],"labels":false,"title":null}}}}
]},
{"width":148,"height":108.7,"resolve":{"axis":{"y":"independent","x":"independent"}},
"layer":[
{"data":{"name":"A1"},"mark":{"type":"line","clip":true,"strokeWidth":1},"encoding":{"x":{"field":"e","type":"quantitative","scale":{"domain":[-2,4],"nice":false,"zero":false},"axis":null},"y":{"field":"d","type":"quantitative","scale":{"domain":[-3,3],"nice":false,"zero":false},"axis":{"orient":"left","values":[-2,-1,0,1,2],"labelExpr":"datum.value%2==0?datum.label:''","title":"PDOS (states/eV)","titlePadding":10,"labelFont":"Liberation Serif","labelFontSize":18,"titleFont":"Liberation Serif","titleFontSize":20,"titleFontWeight":"bold"}},"color":{"field":"o","type":"nominal","scale":{"domain":["xy","yz","zx"],"range":["#0000ff","#ff0000","#00f000"]},"legend":null}}},
{"data":{"values":[{}]},"mark":{"type":"rule","color":"#000","strokeWidth":1,"strokeDash":[2,2]},"encoding":{"x":{"datum":0,"type":"quantitative","scale":{"domain":[-2,4],"nice":false,"zero":false},"axis":null}}},
{"data":{"name":"lab"},"transform":[{"filter":"datum.c=='A'&&datum.p=='1'&&datum.k=='v'"}],"mark":{"type":"text","align":"right","baseline":"alphabetic","fontSize":20,"fontWeight":"bold","font":"Liberation Serif"},"encoding":{"x":{"field":"e","type":"quantitative","scale":{"domain":[-2,4],"nice":false,"zero":false},"axis":null},"y":{"field":"d","type":"quantitative","scale":{"domain":[-3,3],"nice":false,"zero":false},"axis":null},"text":{"field":"t"}}},
{"data":{"name":"arr"},"transform":[{"filter":"datum.c=='A'"}],"mark":{"type":"rule","strokeWidth":1.5,"clip":false},"encoding":{"x":{"field":"x0","type":"quantitative","scale":{"domain":[-2,4],"nice":false,"zero":false},"axis":null},"y":{"field":"y0","type":"quantitative","scale":{"domain":[-3,3],"nice":false,"zero":false},"axis":null},"x2":{"field":"x1"},"y2":{"field":"y1"},"color":{"field":"o","type":"nominal","scale":{"domain":["xy","yz","zx"],"range":["#0000ff","#ff0000","#00f000"]},"legend":null},"strokeDash":{"field":"s","type":"nominal","scale":{"domain":["solid","dashed"],"range":[[1,0],[5,3]]},"legend":null}}},
{"data":{"name":"arr"},"transform":[{"filter":"datum.c=='A'"},{"calculate":"atan2((datum.x1-datum.x0)*24.67,(datum.y1-datum.y0)*18.12)*180/PI","as":"ang"}],"mark":{"type":"point","shape":"M-0.45,1L0,0L0.45,1","size":196,"filled":false,"strokeWidth":1.5,"opacity":1,"clip":false},"encoding":{"x":{"field":"x1","type":"quantitative","scale":{"domain":[-2,4],"nice":false,"zero":false},"axis":null},"y":{"field":"y1","type":"quantitative","scale":{"domain":[-3,3],"nice":false,"zero":false},"axis":null},"angle":{"field":"ang","type":"quantitative","scale":null},"color":{"field":"o","type":"nominal","scale":{"domain":["xy","yz","zx"],"range":["#0000ff","#ff0000","#00f000"]},"legend":null}}},
{"data":{"values":[{}]},"mark":{"type":"rule","opacity":0},"encoding":{"y":{"datum":0,"type":"quantitative","scale":{"domain":[-3,3],"nice":false,"zero":false},"axis":{"orient":"right","values":[-2,-1,0,1,2],"labels":false,"title":null}}}}
]},
{"width":148,"height":108.7,"resolve":{"axis":{"y":"independent","x":"independent"}},
"layer":[
{"data":{"name":"B1"},"mark":{"type":"line","clip":true,"strokeWidth":1},"encoding":{"x":{"field":"e","type":"quantitative","scale":{"domain":[-2,4],"nice":false,"zero":false},"axis":null},"y":{"field":"d","type":"quantitative","scale":{"domain":[-3,3],"nice":false,"zero":false},"axis":{"orient":"left","values":[-2,-1,0,1,2],"labels":false,"title":null}},"color":{"field":"o","type":"nominal","scale":{"domain":["xy","yz","zx"],"range":["#0000ff","#ff0000","#00f000"]},"legend":null}}},
{"data":{"values":[{}]},"mark":{"type":"rule","color":"#000","strokeWidth":1,"strokeDash":[2,2]},"encoding":{"x":{"datum":0,"type":"quantitative","scale":{"domain":[-2,4],"nice":false,"zero":false},"axis":null}}},
{"data":{"name":"lab"},"transform":[{"filter":"datum.c=='B'&&datum.p=='1'&&datum.k=='v'"}],"mark":{"type":"text","align":"right","baseline":"alphabetic","fontSize":20,"fontWeight":"bold","font":"Liberation Serif"},"encoding":{"x":{"field":"e","type":"quantitative","scale":{"domain":[-2,4],"nice":false,"zero":false},"axis":null},"y":{"field":"d","type":"quantitative","scale":{"domain":[-3,3],"nice":false,"zero":false},"axis":null},"text":{"field":"t"}}},
{"data":{"name":"arr"},"transform":[{"filter":"datum.c=='B'"}],"mark":{"type":"rule","strokeWidth":1.5,"clip":false},"encoding":{"x":{"field":"x0","type":"quantitative","scale":{"domain":[-2,4],"nice":false,"zero":false},"axis":null},"y":{"field":"y0","type":"quantitative","scale":{"domain":[-3,3],"nice":false,"zero":false},"axis":null},"x2":{"field":"x1"},"y2":{"field":"y1"},"color":{"field":"o","type":"nominal","scale":{"domain":["xy","yz","zx"],"range":["#0000ff","#ff0000","#00f000"]},"legend":null},"strokeDash":{"field":"s","type":"nominal","scale":{"domain":["solid","dashed"],"range":[[1,0],[5,3]]},"legend":null}}},
{"data":{"name":"arr"},"transform":[{"filter":"datum.c=='B'"},{"calculate":"atan2((datum.x1-datum.x0)*24.67,(datum.y1-datum.y0)*18.12)*180/PI","as":"ang"}],"mark":{"type":"point","shape":"M-0.45,1L0,0L0.45,1","size":196,"filled":false,"strokeWidth":1.5,"opacity":1,"clip":false},"encoding":{"x":{"field":"x1","type":"quantitative","scale":{"domain":[-2,4],"nice":false,"zero":false},"axis":null},"y":{"field":"y1","type":"quantitative","scale":{"domain":[-3,3],"nice":false,"zero":false},"axis":null},"angle":{"field":"ang","type":"quantitative","scale":null},"color":{"field":"o","type":"nominal","scale":{"domain":["xy","yz","zx"],"range":["#0000ff","#ff0000","#00f000"]},"legend":null}}},
{"data":{"values":[{}]},"mark":{"type":"rule","opacity":0},"encoding":{"y":{"datum":0,"type":"quantitative","scale":{"domain":[-3,3],"nice":false,"zero":false},"axis":{"orient":"right","values":[-2,-1,0,1,2],"labels":false,"title":null}}}}
]},
{"width":148,"height":108.7,"resolve":{"axis":{"y":"independent","x":"independent"}},
"layer":[
{"data":{"name":"C1"},"mark":{"type":"line","clip":true,"strokeWidth":1},"encoding":{"x":{"field":"e","type":"quantitative","scale":{"domain":[-2,4],"nice":false,"zero":false},"axis":null},"y":{"field":"d","type":"quantitative","scale":{"domain":[-3,3],"nice":false,"zero":false},"axis":{"orient":"left","values":[-2,-1,0,1,2],"labels":false,"title":null}},"color":{"field":"o","type":"nominal","scale":{"domain":["xy","yz","zx"],"range":["#0000ff","#ff0000","#00f000"]},"legend":null}}},
{"data":{"values":[{}]},"mark":{"type":"rule","color":"#000","strokeWidth":1,"strokeDash":[2,2]},"encoding":{"x":{"datum":0,"type":"quantitative","scale":{"domain":[-2,4],"nice":false,"zero":false},"axis":null}}},
{"data":{"name":"lab"},"transform":[{"filter":"datum.c=='C'&&datum.p=='1'&&datum.k=='v'"}],"mark":{"type":"text","align":"right","baseline":"alphabetic","fontSize":20,"fontWeight":"bold","font":"Liberation Serif"},"encoding":{"x":{"field":"e","type":"quantitative","scale":{"domain":[-2,4],"nice":false,"zero":false},"axis":null},"y":{"field":"d","type":"quantitative","scale":{"domain":[-3,3],"nice":false,"zero":false},"axis":null},"text":{"field":"t"}}},
{"data":{"name":"arr"},"transform":[{"filter":"datum.c=='C'"}],"mark":{"type":"rule","strokeWidth":1.5,"clip":false},"encoding":{"x":{"field":"x0","type":"quantitative","scale":{"domain":[-2,4],"nice":false,"zero":false},"axis":null},"y":{"field":"y0","type":"quantitative","scale":{"domain":[-3,3],"nice":false,"zero":false},"axis":null},"x2":{"field":"x1"},"y2":{"field":"y1"},"color":{"field":"o","type":"nominal","scale":{"domain":["xy","yz","zx"],"range":["#0000ff","#ff0000","#00f000"]},"legend":null},"strokeDash":{"field":"s","type":"nominal","scale":{"domain":["solid","dashed"],"range":[[1,0],[5,3]]},"legend":null}}},
{"data":{"name":"arr"},"transform":[{"filter":"datum.c=='C'"},{"calculate":"atan2((datum.x1-datum.x0)*24.67,(datum.y1-datum.y0)*18.12)*180/PI","as":"ang"}],"mark":{"type":"point","shape":"M-0.45,1L0,0L0.45,1","size":196,"filled":false,"strokeWidth":1.5,"opacity":1,"clip":false},"encoding":{"x":{"field":"x1","type":"quantitative","scale":{"domain":[-2,4],"nice":false,"zero":false},"axis":null},"y":{"field":"y1","type":"quantitative","scale":{"domain":[-3,3],"nice":false,"zero":false},"axis":null},"angle":{"field":"ang","type":"quantitative","scale":null},"color":{"field":"o","type":"nominal","scale":{"domain":["xy","yz","zx"],"range":["#0000ff","#ff0000","#00f000"]},"legend":null}}},
{"data":{"values":[{}]},"mark":{"type":"rule","opacity":0},"encoding":{"y":{"datum":0,"type":"quantitative","scale":{"domain":[-3,3],"nice":false,"zero":false},"axis":{"orient":"right","values":[-2,-1,0,1,2],"labels":false,"title":null}}}}
]},
{"width":148,"height":108.7,"resolve":{"axis":{"y":"independent","x":"independent"}},
"layer":[
{"data":{"name":"A2"},"mark":{"type":"line","clip":true,"strokeWidth":1},"encoding":{"x":{"field":"e","type":"quantitative","scale":{"domain":[-2,4],"nice":false,"zero":false},"axis":{"values":[-2,0,2,4],"ticks":false,"labelPadding":5,"title":null,"labelFont":"Liberation Serif","labelFontSize":18}},"y":{"field":"d","type":"quantitative","scale":{"domain":[-3,3],"nice":false,"zero":false},"axis":{"orient":"left","values":[-2,-1,0,1,2],"labelExpr":"datum.value%2==0?datum.label:''","title":null,"labelFont":"Liberation Serif","labelFontSize":18}},"color":{"field":"o","type":"nominal","scale":{"domain":["xy","yz","zx"],"range":["#0000ff","#ff0000","#00f000"]},"legend":null}}},
{"data":{"values":[{}]},"mark":{"type":"rule","color":"#000","strokeWidth":1,"strokeDash":[2,2]},"encoding":{"x":{"datum":0,"type":"quantitative","scale":{"domain":[-2,4],"nice":false,"zero":false},"axis":null}}},
{"data":{"name":"lab"},"transform":[{"filter":"datum.c=='A'&&datum.p=='2'&&datum.k=='v'"}],"mark":{"type":"text","align":"right","baseline":"alphabetic","fontSize":20,"fontWeight":"bold","font":"Liberation Serif"},"encoding":{"x":{"field":"e","type":"quantitative","scale":{"domain":[-2,4],"nice":false,"zero":false},"axis":null},"y":{"field":"d","type":"quantitative","scale":{"domain":[-3,3],"nice":false,"zero":false},"axis":null},"text":{"field":"t"}}},
{"data":{"values":[{}]},"mark":{"type":"rule","opacity":0},"encoding":{"y":{"datum":0,"type":"quantitative","scale":{"domain":[-3,3],"nice":false,"zero":false},"axis":{"orient":"right","values":[-2,-1,0,1,2],"labels":false,"title":null}}}}
]},
{"width":148,"height":108.7,"resolve":{"axis":{"y":"independent","x":"independent"}},
"layer":[
{"data":{"name":"B2"},"mark":{"type":"line","clip":true,"strokeWidth":1},"encoding":{"x":{"field":"e","type":"quantitative","scale":{"domain":[-2,4],"nice":false,"zero":false},"axis":{"values":[-2,0,2,4],"ticks":false,"labelPadding":5,"title":"Energy (eV)","titlePadding":8,"labelFont":"Liberation Serif","labelFontSize":18,"titleFont":"Liberation Serif","titleFontSize":20,"titleFontWeight":"bold"}},"y":{"field":"d","type":"quantitative","scale":{"domain":[-3,3],"nice":false,"zero":false},"axis":{"orient":"left","values":[-2,-1,0,1,2],"labels":false,"title":null}},"color":{"field":"o","type":"nominal","scale":{"domain":["xy","yz","zx"],"range":["#0000ff","#ff0000","#00f000"]},"legend":null}}},
{"data":{"values":[{}]},"mark":{"type":"rule","color":"#000","strokeWidth":1,"strokeDash":[2,2]},"encoding":{"x":{"datum":0,"type":"quantitative","scale":{"domain":[-2,4],"nice":false,"zero":false},"axis":null}}},
{"data":{"name":"lab"},"transform":[{"filter":"datum.c=='B'&&datum.p=='2'&&datum.k=='v'"}],"mark":{"type":"text","align":"right","baseline":"alphabetic","fontSize":20,"fontWeight":"bold","font":"Liberation Serif"},"encoding":{"x":{"field":"e","type":"quantitative","scale":{"domain":[-2,4],"nice":false,"zero":false},"axis":null},"y":{"field":"d","type":"quantitative","scale":{"domain":[-3,3],"nice":false,"zero":false},"axis":null},"text":{"field":"t"}}},
{"data":{"values":[{}]},"mark":{"type":"rule","opacity":0},"encoding":{"y":{"datum":0,"type":"quantitative","scale":{"domain":[-3,3],"nice":false,"zero":false},"axis":{"orient":"right","values":[-2,-1,0,1,2],"labels":false,"title":null}}}}
]},
{"width":148,"height":108.7,"resolve":{"axis":{"y":"independent","x":"independent"}},
"layer":[
{"data":{"name":"C2"},"mark":{"type":"line","clip":true,"strokeWidth":1},"encoding":{"x":{"field":"e","type":"quantitative","scale":{"domain":[-2,4],"nice":false,"zero":false},"axis":{"values":[-2,0,2,4],"ticks":false,"labelPadding":5,"title":null,"labelFont":"Liberation Serif","labelFontSize":18}},"y":{"field":"d","type":"quantitative","scale":{"domain":[-3,3],"nice":false,"zero":false},"axis":{"orient":"left","values":[-2,-1,0,1,2],"labels":false,"title":null}},"color":{"field":"o","type":"nominal","scale":{"domain":["xy","yz","zx"],"range":["#0000ff","#ff0000","#00f000"]},"legend":null}}},
{"data":{"values":[{}]},"mark":{"type":"rule","color":"#000","strokeWidth":1,"strokeDash":[2,2]},"encoding":{"x":{"datum":0,"type":"quantitative","scale":{"domain":[-2,4],"nice":false,"zero":false},"axis":null}}},
{"data":{"name":"lab"},"transform":[{"filter":"datum.c=='C'&&datum.p=='2'&&datum.k=='v'"}],"mark":{"type":"text","align":"right","baseline":"alphabetic","fontSize":20,"fontWeight":"bold","font":"Liberation Serif"},"encoding":{"x":{"field":"e","type":"quantitative","scale":{"domain":[-2,4],"nice":false,"zero":false},"axis":null},"y":{"field":"d","type":"quantitative","scale":{"domain":[-3,3],"nice":false,"zero":false},"axis":null},"text":{"field":"t"}}},
{"data":{"values":[{}]},"mark":{"type":"rule","opacity":0},"encoding":{"y":{"datum":0,"type":"quantitative","scale":{"domain":[-3,3],"nice":false,"zero":false},"axis":{"orient":"right","values":[-2,-1,0,1,2],"labels":false,"title":null}}}}
]}
],
"config":{
"font":"Liberation Serif",
"view":{"stroke":"#444","strokeWidth":1},
"style":{"guide-label":{"font":"Liberation Serif","fontSize":18},"guide-title":{"font":"Liberation Serif","fontSize":20}},
"axis":{"labelFont":"Liberation Serif","labelFontSize":18,"labelColor":"#000","titleFont":"Liberation Serif","titleFontSize":20,"titleFontWeight":"bold","titleColor":"#000","grid":false,"domain":false,"tickColor":"#444","tickSize":-5,"labelPadding":16},
"legend":{"labelFont":"Liberation Serif","labelFontSize":14,"labelFontWeight":"bold","labelColor":"#000","symbolType":"stroke","symbolSize":289,"symbolStrokeWidth":1.5,"rowPadding":2,"padding":0},
"title":{"font":"Liberation Serif","fontSize":20,"fontWeight":"normal","color":"#000","anchor":"middle","offset":5,"subtitleFont":"Liberation Serif","subtitleFontSize":14,"subtitleColor":"#000","subtitlePadding":12}
}
}
